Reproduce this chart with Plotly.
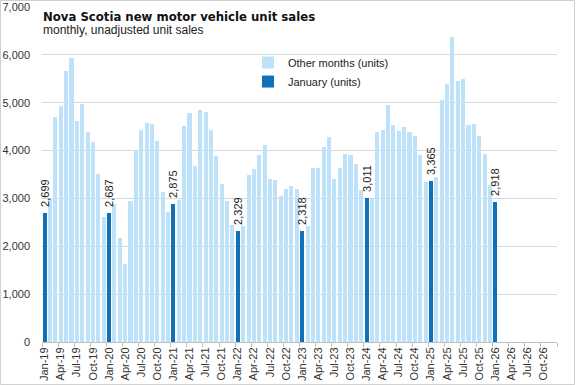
import plotly.graph_objects as go

# ---- data ----
years = ["19", "20", "21", "22", "23", "24", "25", "26"]
month_names = ["Jan", "Feb", "Mar", "Apr", "May", "Jun", "Jul", "Aug", "Sep", "Oct", "Nov", "Dec"]
months = [f"{m}-{y}" for y in years for m in month_names]  # Jan-19 .. Dec-26 (axis extent)

unit_sales = [
    2699, 2980, 4700, 4930, 5660, 5935, 4617, 4979, 4387, 4178, 3508, 2609,  # 2019
    2687, 2881, 2170, 1625, 2944, 4004, 4435, 4575, 4550, 4199, 3138, 2713,  # 2020
    2875, 2964, 4512, 4791, 3680, 4845, 4805, 4429, 3885, 3299, 2943, 2441,  # 2021
    2329, 2427, 3494, 3613, 3906, 4115, 3410, 3389, 3048, 3201, 3257, 3188,  # 2022
    2318, 2420, 3634, 3634, 4080, 4282, 3410, 3634, 3934, 3906, 3718, 3174,  # 2023
    3011, 3006, 4390, 4429, 4952, 4533, 4415, 4491, 4387, 4303, 3906, 3341,  # 2024
    3365, 3452, 5056, 5391, 6381, 5454, 5496, 4533, 4554, 4303, 3927, 3285,  # 2025
    2918,                                                                    # 2026
]

tick_labels = [m for m in months if m.split("-")[0] in ("Jan", "Apr", "Jul", "Oct")]
y_ticks = [0, 1000, 2000, 3000, 4000, 5000, 6000, 7000]

# ---- split series ----
jan_x, jan_y, oth_x, oth_y = [], [], [], []
for i, v in enumerate(unit_sales):
    if months[i].startswith("Jan"):
        jan_x.append(i); jan_y.append(v)
    else:
        oth_x.append(i); oth_y.append(v)

tick_pos = [months.index(t) for t in tick_labels]

fig = go.Figure()
fig.add_trace(go.Bar(
    x=oth_x, y=oth_y, name="Other months (units)",
    marker=dict(color="#BDE2FA", line=dict(width=0)), width=0.76,
))
fig.add_trace(go.Bar(
    x=jan_x, y=jan_y, name="January (units)",
    marker=dict(color="#1070B8", line=dict(width=0)), width=0.76,
    texttemplate="\u00a0\u00a0%{y:,}", textposition="outside", textangle=-90,
    constraintext="none",
    textfont=dict(family="Liberation Sans", size=11, color="#222222"),
    cliponaxis=False,
))

fig.update_layout(
    width=577, height=385,
    margin=dict(l=42, r=20, t=7, b=43, autoexpand=False),
    paper_bgcolor="white", plot_bgcolor="white",
    barmode="stack", bargap=0,
    font=dict(family="Liberation Sans", size=11, color="#333333"),
    showlegend=True,
    legend=dict(
        x=0.40, y=1 - 41 / 334.7, xanchor="left", yanchor="top",
        bgcolor="rgba(0,0,0,0)", font=dict(size=11, color="#222222"),
        itemwidth=30, tracegroupgap=0, traceorder="normal",
    ),
    xaxis=dict(
        range=[-0.5, 95.5], automargin=False,
        tickmode="array", tickvals=tick_pos, ticktext=tick_labels,
        tickangle=-90, ticks="", showgrid=False, zeroline=False,
        showline=True, linecolor="#BFBFBF", linewidth=1,
        tickfont=dict(size=11, color="#333333"),
        minor=dict(
            tickmode="array", tickvals=[p - 0.5 for p in tick_pos] + [95.5],
            ticks="outside", ticklen=4, tickcolor="#BFBFBF", showgrid=False,
        ),
    ),
    yaxis=dict(
        range=[0, 7000], tickmode="array", tickvals=y_ticks, automargin=False,
        tickformat=",", showgrid=True, gridcolor="#D9D9D9", gridwidth=1,
        zeroline=False, showline=False, ticks="", ticklabelstandoff=11,
        tickfont=dict(size=11, color="#333333"),
    ),
    annotations=[
        dict(text="<b>Nova Scotia new motor vehicle unit sales</b>",
             xref="paper", yref="paper", x=-0.002, y=1 - 9 / 334.7,
             xanchor="left", yanchor="middle", showarrow=False,
             font=dict(family="DejaVu Sans Condensed, Roboto, sans-serif", size=13, color="#111111")),
        dict(text="monthly, unadjusted unit sales",
             xref="paper", yref="paper", x=-0.002, y=1 - 23 / 334.7,
             xanchor="left", yanchor="middle", showarrow=False,
             font=dict(family="Liberation Sans", size=12, color="#222222")),
    ],
    shapes=[dict(
        type="rect", xref="paper", yref="paper",
        x0=-41.5 / 515, x1=1 + 17.5 / 515, y0=-42.5 / 334.7, y1=1 + 6.5 / 334.7,
        line=dict(color="#D0D0D0", width=1), fillcolor="rgba(0,0,0,0)", layer="below",
    )],
)

fig.write_html(
    "out.html",
    config={"displayModeBar": False},
    post_script="document.body.style.margin='0';document.body.style.padding='0';",
)
